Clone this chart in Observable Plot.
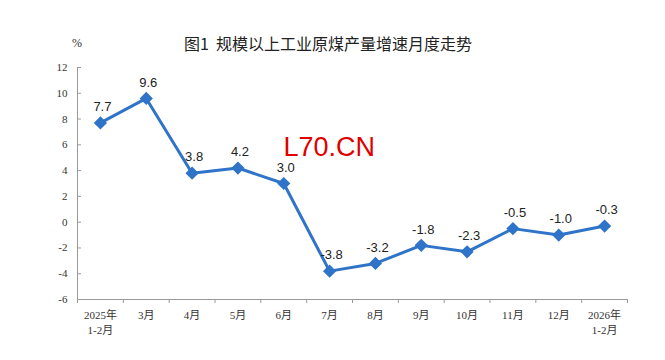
<!DOCTYPE html>
<html><head><meta charset="utf-8">
<script src="https://cdn.jsdelivr.net/npm/d3@7"></script>
<script src="https://cdn.jsdelivr.net/npm/@observablehq/plot@0.6"></script>
<style>
body{margin:0;background:#fff;width:665px;height:360px;overflow:hidden;}
#head{position:relative;height:55px;}
#title{position:absolute;left:0;width:656px;top:31px;text-align:center;font:16px "Noto Sans CJK SC",sans-serif;color:#222;}
#unit{position:absolute;left:72px;top:36px;font:12px "Liberation Serif","Noto Sans CJK SC",serif;color:#333;}
</style></head>
<body>
<div id="head"><div id="title">图1&nbsp; 规模以上工业原煤产量增速月度走势</div><div id="unit">%</div></div>
<div id="chart"></div>
<script>
const months = ["2025年\n1-2月","3月","4月","5月","6月","7月","8月","9月","10月","11月","12月","2026年\n1-2月"];
const values = [7.7, 9.6, 3.8, 4.2, 3.0, -3.8, -3.2, -1.8, -2.3, -0.5, -1.0, -0.3];
const yTicks = [-6,-4,-2,0,2,4,6,8,10,12];
const watermark = "L70.CN";

const data = months.map((m,i)=>({m, i: i+0.5, v: values[i], label: values[i].toFixed(1)}));
const blue = "#2f74c8";

const plot = Plot.plot({
  width: 665, height: 305,
  marginLeft: 77, marginRight: 38, marginTop: 12, marginBottom: 61,
  style: {fontFamily: "'Liberation Serif','Noto Sans CJK SC',serif", fontSize: "11px", color: "#333", background: "#fff"},
  x: {type: "linear", domain: [0, months.length]},
  y: {domain: [-6, 12]},
  marks: [
    Plot.axisY({ticks: yTicks, tickSize: -4, tickFormat: d => String(d), stroke: "#999", tickPadding: 14, label: null}),
    Plot.ruleX([0], {stroke: "#999"}),
    Plot.ruleY([-6], {stroke: "#999"}),
    Plot.axisX({ticks: d3.range(0, months.length + 1), tickSize: 4, tickFormat: () => "", stroke: "#999", label: null}),
    Plot.axisX({ticks: data.map(d=>d.i), tickSize: 0, tickPadding: 9, tickFormat: (d) => months[Math.round(d-0.5)], label: null, fontSize: 11, lineHeight: 1.35}),
    Plot.line(data, {x: "i", y: "v", stroke: blue, strokeWidth: 3}),
    Plot.dot(data, {x: "i", y: "v", symbol: "diamond2", r: 5, fill: blue, stroke: blue}),
    Plot.text(data, {x: "i", y: "v", text: "label", dy: -16, dx: 2, fontSize: 13, fill: "#222", fontFamily: "'Liberation Sans',Arial,sans-serif"}),
    Plot.text([watermark], {frameAnchor: "top-left", dx: 206, dy: 69, text: d => d, fill: "#e00000", fontSize: 27, textAnchor: "start", fontFamily: "'Liberation Sans',Arial,sans-serif"})
  ]
});
document.getElementById("chart").appendChild(plot);
</script>
</body></html>
